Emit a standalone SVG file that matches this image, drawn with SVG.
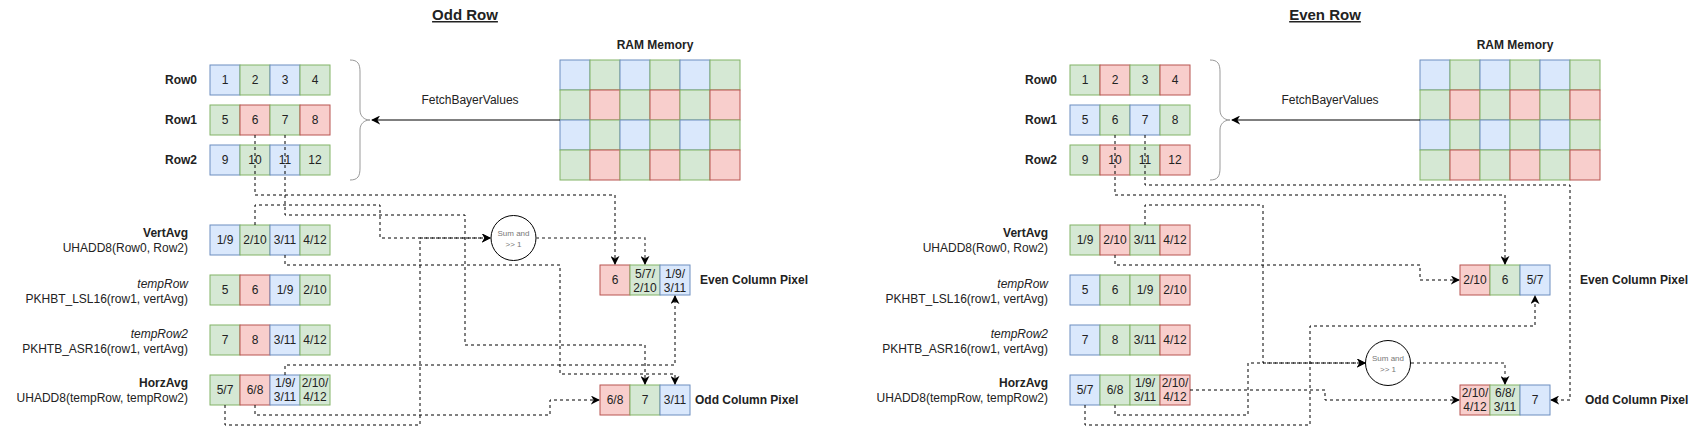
<svg xmlns="http://www.w3.org/2000/svg" width="1691" height="434" viewBox="0 0 1691 434">
<style>
text{font-family:"Liberation Sans",Arial,sans-serif;font-size:12px;fill:#222}
.c{text-anchor:middle}
.r{text-anchor:end}
.b{font-weight:bold}
.i{font-style:italic}
.t{font-size:15px;font-weight:bold;text-decoration:underline;text-anchor:middle}
.B{fill:#dae8fc;stroke:#6c8ebf}
.G{fill:#d5e8d4;stroke:#82b366}
.R{fill:#f8cecc;stroke:#b85450}
.d{fill:none;stroke:#000;stroke-dasharray:3 3}
.g{fill:none;stroke:#666;stroke-width:1.5;stroke-dasharray:3 3}
.s{fill:none;stroke:#000}
.br{fill:none;stroke:#999}
.ci{fill:#fff;stroke:#000}
.sm{font-size:8px;fill:#777;text-anchor:middle}
</style>
<defs>
<marker id="a" viewBox="0 0 10 10" refX="9" refY="5" markerWidth="9" markerHeight="9" markerUnits="userSpaceOnUse" orient="auto">
<path d="M0,0 L10,5 L0,10 L3,5 z" fill="#000"/>
</marker>
</defs>

<!-- ============ ODD ROW ============ -->
<g id="odd-title"><text class="t" x="465" y="20">Odd Row</text></g>

<g id="odd-row0">
<text class="b" x="165" y="84">Row0</text>
<rect class="B" x="210" y="65" width="30" height="30"/><rect class="G" x="240" y="65" width="30" height="30"/><rect class="B" x="270" y="65" width="30" height="30"/><rect class="G" x="300" y="65" width="30" height="30"/>
<text class="c" x="225" y="84">1</text><text class="c" x="255" y="84">2</text><text class="c" x="285" y="84">3</text><text class="c" x="315" y="84">4</text>
</g>
<g id="odd-row1">
<text class="b" x="165" y="124">Row1</text>
<rect class="G" x="210" y="105" width="30" height="30"/><rect class="R" x="240" y="105" width="30" height="30"/><rect class="G" x="270" y="105" width="30" height="30"/><rect class="R" x="300" y="105" width="30" height="30"/>
<text class="c" x="225" y="124">5</text><text class="c" x="255" y="124">6</text><text class="c" x="285" y="124">7</text><text class="c" x="315" y="124">8</text>
</g>
<g id="odd-row2">
<text class="b" x="165" y="164">Row2</text>
<rect class="B" x="210" y="145" width="30" height="30"/><rect class="G" x="240" y="145" width="30" height="30"/><rect class="B" x="270" y="145" width="30" height="30"/><rect class="G" x="300" y="145" width="30" height="30"/>
<text class="c" x="225" y="164">9</text><text class="c" x="255" y="164">10</text><text class="c" x="285" y="164">11</text><text class="c" x="315" y="164">12</text>
</g>
<g id="odd-brace"><path class="br" d="M350,60 C358,60 360,64 360,72 L360,110 C360,116 364,120 370,120 C364,120 360,124 360,130 L360,168 C360,176 358,180 350,180"/></g>

<g id="odd-ram">
<text class="c b" x="655" y="49">RAM Memory</text>
<rect class="B" x="560" y="60" width="30" height="30"/><rect class="G" x="590" y="60" width="30" height="30"/><rect class="B" x="620" y="60" width="30" height="30"/><rect class="G" x="650" y="60" width="30" height="30"/><rect class="B" x="680" y="60" width="30" height="30"/><rect class="G" x="710" y="60" width="30" height="30"/>
<rect class="G" x="560" y="90" width="30" height="30"/><rect class="R" x="590" y="90" width="30" height="30"/><rect class="G" x="620" y="90" width="30" height="30"/><rect class="R" x="650" y="90" width="30" height="30"/><rect class="G" x="680" y="90" width="30" height="30"/><rect class="R" x="710" y="90" width="30" height="30"/>
<rect class="B" x="560" y="120" width="30" height="30"/><rect class="G" x="590" y="120" width="30" height="30"/><rect class="B" x="620" y="120" width="30" height="30"/><rect class="G" x="650" y="120" width="30" height="30"/><rect class="B" x="680" y="120" width="30" height="30"/><rect class="G" x="710" y="120" width="30" height="30"/>
<rect class="G" x="560" y="150" width="30" height="30"/><rect class="R" x="590" y="150" width="30" height="30"/><rect class="G" x="620" y="150" width="30" height="30"/><rect class="R" x="650" y="150" width="30" height="30"/><rect class="G" x="680" y="150" width="30" height="30"/><rect class="R" x="710" y="150" width="30" height="30"/>
</g>

<g id="odd-vertavg">
<text class="r b" x="188" y="237">VertAvg</text><text class="r" x="188" y="252">UHADD8(Row0, Row2)</text>
<rect class="B" x="210" y="225" width="30" height="30"/><rect class="G" x="240" y="225" width="30" height="30"/><rect class="B" x="270" y="225" width="30" height="30"/><rect class="G" x="300" y="225" width="30" height="30"/>
<text class="c" x="225" y="244">1/9</text><text class="c" x="255" y="244">2/10</text><text class="c" x="285" y="244">3/11</text><text class="c" x="315" y="244">4/12</text>
</g>
<g id="odd-temprow">
<text class="r i" x="188" y="288">tempRow</text><text class="r" x="188" y="303">PKHBT_LSL16(row1, vertAvg)</text>
<rect class="G" x="210" y="275" width="30" height="30"/><rect class="R" x="240" y="275" width="30" height="30"/><rect class="B" x="270" y="275" width="30" height="30"/><rect class="G" x="300" y="275" width="30" height="30"/>
<text class="c" x="225" y="294">5</text><text class="c" x="255" y="294">6</text><text class="c" x="285" y="294">1/9</text><text class="c" x="315" y="294">2/10</text>
</g>
<g id="odd-temprow2">
<text class="r i" x="188" y="338">tempRow2</text><text class="r" x="188" y="353">PKHTB_ASR16(row1, vertAvg)</text>
<rect class="G" x="210" y="325" width="30" height="30"/><rect class="R" x="240" y="325" width="30" height="30"/><rect class="B" x="270" y="325" width="30" height="30"/><rect class="G" x="300" y="325" width="30" height="30"/>
<text class="c" x="225" y="344">7</text><text class="c" x="255" y="344">8</text><text class="c" x="285" y="344">3/11</text><text class="c" x="315" y="344">4/12</text>
</g>
<g id="odd-horzavg">
<text class="r b" x="188" y="387">HorzAvg</text><text class="r" x="188" y="402">UHADD8(tempRow, tempRow2)</text>
<rect class="G" x="210" y="375" width="30" height="30"/><rect class="R" x="240" y="375" width="30" height="30"/><rect class="B" x="270" y="375" width="30" height="30"/><rect class="G" x="300" y="375" width="30" height="30"/>
<text class="c" x="225" y="394">5/7</text><text class="c" x="255" y="394">6/8</text>
<text class="c" x="285" y="387">1/9/</text><text class="c" x="285" y="401">3/11</text>
<text class="c" x="315" y="387">2/10/</text><text class="c" x="315" y="401">4/12</text>
</g>
<g id="odd-sum">
<circle class="ci" cx="513.5" cy="238" r="22.5"/>
<text class="sm" x="513.5" y="236">Sum and</text><text class="sm" x="513.5" y="247">&gt;&gt; 1</text>
</g>
<g id="odd-even-pixel">
<rect class="R" x="600" y="265" width="30" height="30"/><rect class="G" x="630" y="265" width="30" height="30"/><rect class="B" x="660" y="265" width="30" height="30"/>
<text class="c" x="615" y="284">6</text>
<text class="c" x="645" y="278">5/7/</text><text class="c" x="645" y="292">2/10</text>
<text class="c" x="675" y="278">1/9/</text><text class="c" x="675" y="292">3/11</text>
<text class="b" x="700" y="284">Even Column Pixel</text>
</g>
<g id="odd-odd-pixel">
<rect class="R" x="600" y="385" width="30" height="30"/><rect class="G" x="630" y="385" width="30" height="30"/><rect class="B" x="660" y="385" width="30" height="30"/>
<text class="c" x="615" y="404">6/8</text><text class="c" x="645" y="404">7</text><text class="c" x="675" y="404">3/11</text>
<text class="b" x="695" y="404">Odd Column Pixel</text>
</g>

<!-- ============ EVEN ROW ============ -->
<g id="even-title"><text class="t" x="1325" y="20">Even Row</text></g>

<g id="even-row0">
<text class="b" x="1025" y="84">Row0</text>
<rect class="G" x="1070" y="65" width="30" height="30"/><rect class="R" x="1100" y="65" width="30" height="30"/><rect class="G" x="1130" y="65" width="30" height="30"/><rect class="R" x="1160" y="65" width="30" height="30"/>
<text class="c" x="1085" y="84">1</text><text class="c" x="1115" y="84">2</text><text class="c" x="1145" y="84">3</text><text class="c" x="1175" y="84">4</text>
</g>
<g id="even-row1">
<text class="b" x="1025" y="124">Row1</text>
<rect class="B" x="1070" y="105" width="30" height="30"/><rect class="G" x="1100" y="105" width="30" height="30"/><rect class="B" x="1130" y="105" width="30" height="30"/><rect class="G" x="1160" y="105" width="30" height="30"/>
<text class="c" x="1085" y="124">5</text><text class="c" x="1115" y="124">6</text><text class="c" x="1145" y="124">7</text><text class="c" x="1175" y="124">8</text>
</g>
<g id="even-row2">
<text class="b" x="1025" y="164">Row2</text>
<rect class="G" x="1070" y="145" width="30" height="30"/><rect class="R" x="1100" y="145" width="30" height="30"/><rect class="G" x="1130" y="145" width="30" height="30"/><rect class="R" x="1160" y="145" width="30" height="30"/>
<text class="c" x="1085" y="164">9</text><text class="c" x="1115" y="164">10</text><text class="c" x="1145" y="164">11</text><text class="c" x="1175" y="164">12</text>
</g>
<g id="even-brace"><path class="br" d="M1210,60 C1218,60 1220,64 1220,72 L1220,110 C1220,116 1224,120 1230,120 C1224,120 1220,124 1220,130 L1220,168 C1220,176 1218,180 1210,180"/></g>

<g id="even-ram">
<text class="c b" x="1515" y="49">RAM Memory</text>
<rect class="B" x="1420" y="60" width="30" height="30"/><rect class="G" x="1450" y="60" width="30" height="30"/><rect class="B" x="1480" y="60" width="30" height="30"/><rect class="G" x="1510" y="60" width="30" height="30"/><rect class="B" x="1540" y="60" width="30" height="30"/><rect class="G" x="1570" y="60" width="30" height="30"/>
<rect class="G" x="1420" y="90" width="30" height="30"/><rect class="R" x="1450" y="90" width="30" height="30"/><rect class="G" x="1480" y="90" width="30" height="30"/><rect class="R" x="1510" y="90" width="30" height="30"/><rect class="G" x="1540" y="90" width="30" height="30"/><rect class="R" x="1570" y="90" width="30" height="30"/>
<rect class="B" x="1420" y="120" width="30" height="30"/><rect class="G" x="1450" y="120" width="30" height="30"/><rect class="B" x="1480" y="120" width="30" height="30"/><rect class="G" x="1510" y="120" width="30" height="30"/><rect class="B" x="1540" y="120" width="30" height="30"/><rect class="G" x="1570" y="120" width="30" height="30"/>
<rect class="G" x="1420" y="150" width="30" height="30"/><rect class="R" x="1450" y="150" width="30" height="30"/><rect class="G" x="1480" y="150" width="30" height="30"/><rect class="R" x="1510" y="150" width="30" height="30"/><rect class="G" x="1540" y="150" width="30" height="30"/><rect class="R" x="1570" y="150" width="30" height="30"/>
</g>

<g id="even-vertavg">
<text class="r b" x="1048" y="237">VertAvg</text><text class="r" x="1048" y="252">UHADD8(Row0, Row2)</text>
<rect class="G" x="1070" y="225" width="30" height="30"/><rect class="R" x="1100" y="225" width="30" height="30"/><rect class="G" x="1130" y="225" width="30" height="30"/><rect class="R" x="1160" y="225" width="30" height="30"/>
<text class="c" x="1085" y="244">1/9</text><text class="c" x="1115" y="244">2/10</text><text class="c" x="1145" y="244">3/11</text><text class="c" x="1175" y="244">4/12</text>
</g>
<g id="even-temprow">
<text class="r i" x="1048" y="288">tempRow</text><text class="r" x="1048" y="303">PKHBT_LSL16(row1, vertAvg)</text>
<rect class="B" x="1070" y="275" width="30" height="30"/><rect class="G" x="1100" y="275" width="30" height="30"/><rect class="G" x="1130" y="275" width="30" height="30"/><rect class="R" x="1160" y="275" width="30" height="30"/>
<text class="c" x="1085" y="294">5</text><text class="c" x="1115" y="294">6</text><text class="c" x="1145" y="294">1/9</text><text class="c" x="1175" y="294">2/10</text>
</g>
<g id="even-temprow2">
<text class="r i" x="1048" y="338">tempRow2</text><text class="r" x="1048" y="353">PKHTB_ASR16(row1, vertAvg)</text>
<rect class="B" x="1070" y="325" width="30" height="30"/><rect class="G" x="1100" y="325" width="30" height="30"/><rect class="G" x="1130" y="325" width="30" height="30"/><rect class="R" x="1160" y="325" width="30" height="30"/>
<text class="c" x="1085" y="344">7</text><text class="c" x="1115" y="344">8</text><text class="c" x="1145" y="344">3/11</text><text class="c" x="1175" y="344">4/12</text>
</g>
<g id="even-horzavg">
<text class="r b" x="1048" y="387">HorzAvg</text><text class="r" x="1048" y="402">UHADD8(tempRow, tempRow2)</text>
<rect class="B" x="1070" y="375" width="30" height="30"/><rect class="G" x="1100" y="375" width="30" height="30"/><rect class="G" x="1130" y="375" width="30" height="30"/><rect class="R" x="1160" y="375" width="30" height="30"/>
<text class="c" x="1085" y="394">5/7</text><text class="c" x="1115" y="394">6/8</text>
<text class="c" x="1145" y="387">1/9/</text><text class="c" x="1145" y="401">3/11</text>
<text class="c" x="1175" y="387">2/10/</text><text class="c" x="1175" y="401">4/12</text>
</g>
<g id="even-sum">
<circle class="ci" cx="1388" cy="363" r="22.5"/>
<text class="sm" x="1388" y="361">Sum and</text><text class="sm" x="1388" y="372">&gt;&gt; 1</text>
</g>
<g id="even-even-pixel">
<rect class="R" x="1460" y="265" width="30" height="30"/><rect class="G" x="1490" y="265" width="30" height="30"/><rect class="B" x="1520" y="265" width="30" height="30"/>
<text class="c" x="1475" y="284">2/10</text><text class="c" x="1505" y="284">6</text><text class="c" x="1535" y="284">5/7</text>
<text class="b" x="1580" y="284">Even Column Pixel</text>
</g>
<g id="even-odd-pixel">
<rect class="R" x="1460" y="385" width="30" height="30"/><rect class="G" x="1490" y="385" width="30" height="30"/><rect class="B" x="1520" y="385" width="30" height="30"/>
<text class="c" x="1475" y="397">2/10/</text><text class="c" x="1475" y="411">4/12</text>
<text class="c" x="1505" y="397">6/8/</text><text class="c" x="1505" y="411">3/11</text>
<text class="c" x="1535" y="404">7</text>
<text class="b" x="1585" y="404">Odd Column Pixel</text>
</g>

<!-- ============ CONNECTORS ============ -->
<g id="connectors">
<text class="c" x="470" y="104">FetchBayerValues</text>
<text class="c" x="1330" y="104">FetchBayerValues</text>
<path class="s" d="M560,120 H372" marker-end="url(#a)"/>
<path class="s" d="M1420,120 H1232" marker-end="url(#a)"/>

<path class="d" d="M255,135 V195 H615 V264" marker-end="url(#a)"/>
<path class="d" d="M285,135 V215 H465 V345 H645 V384" marker-end="url(#a)"/>
<path class="d" d="M255,225 V205 H380 V238 H490" marker-end="url(#a)"/>
<path class="d" d="M225,405 V425 H420 V238 H490" marker-end="url(#a)"/>
<path class="g" d="M536,238 H645 V264" marker-end="url(#a)"/>
<path class="d" d="M285,255 V265 H560 V374 H675 V384" marker-end="url(#a)"/>
<path class="d" d="M285,375 V365 H675 V296" marker-end="url(#a)"/>
<path class="d" d="M255,405 V415 H550 V400 H599" marker-end="url(#a)"/>

<path class="d" d="M1115,135 V195 H1505 V264" marker-end="url(#a)"/>
<path class="d" d="M1145,135 V185 H1570 V400 H1551" marker-end="url(#a)"/>
<path class="d" d="M1145,225 V205 H1263 V363 H1365" marker-end="url(#a)"/>
<path class="d" d="M1115,405 V415 H1248 V363 H1365" marker-end="url(#a)"/>
<path class="g" d="M1411,363 H1505 V384" marker-end="url(#a)"/>
<path class="d" d="M1115,255 V265 H1420 V280 H1459" marker-end="url(#a)"/>
<path class="d" d="M1190,390 H1325 V400 H1459" marker-end="url(#a)"/>
<path class="d" d="M1085,405 V425 H1310 V326 H1535 V296" marker-end="url(#a)"/>
</g>
</svg>
